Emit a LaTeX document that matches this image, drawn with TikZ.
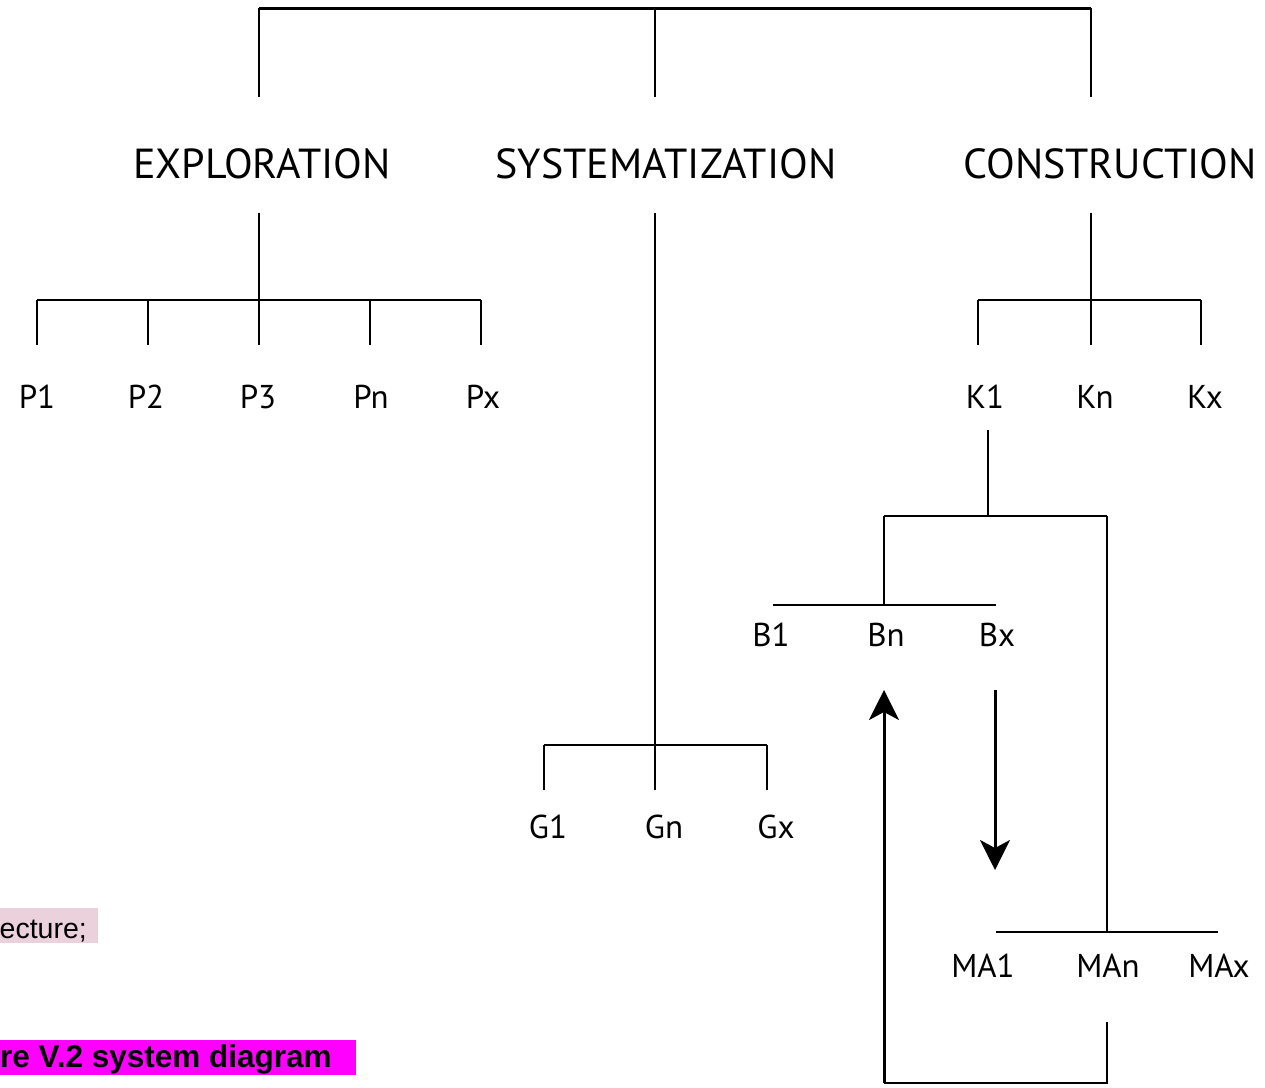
\documentclass[tikz,border=0pt]{standalone}
\usepackage{fontspec}
\setmainfont{PT Sans}
\newfontfamily\arialf{Liberation Sans}
\usetikzlibrary{arrows.meta}
\begin{document}
\begin{tikzpicture}[x=1pt,y=-1pt,
  lbl/.style={font=\fontsize{42}{44}\selectfont, inner sep=0pt, anchor=center},
  sm/.style={font=\fontsize{33}{36}\selectfont, inner sep=0pt, anchor=center},
  ln/.style={line width=2pt, black},
  arr/.style={line width=3pt, -{Stealth[length=30pt,width=30pt,inset=8pt]}}]
\useasboundingbox (0,0) rectangle (1265,1087);
% top level
\draw[line width=3pt] (259,8) -- (1091,8);
\coordinate (tl) at (259,8); \coordinate (tm) at (655,8); \coordinate (tr) at (1091,8);
\draw[ln] (tl) -- (259,97);
\draw[ln] (tm) -- (655,97);
\draw[ln] (tr) -- (1091,97);
\node[lbl] (expl) at (262,164) {EXPLORATION};
\node[lbl] (syst) at (666,164) {SYSTEMATIZATION};
\node[lbl] (cons) at (1110,164) {CONSTRUCTION};
% exploration
\coordinate (ej) at (259,300);
\draw[ln] (259,213) -- (ej);
\draw[ln] (37,300) -- (481,300);
\foreach \x in {37,148,259,370,481} \draw[ln] (\x,300) -- (\x,345);
\node[sm] (p1) at (37,397) {P1};
\node[sm] (p2) at (146,397) {P2};
\node[sm] (p3) at (258,397) {P3};
\node[sm] (pn) at (371,397) {Pn};
\node[sm] (px) at (483,397) {Px};
% systematization
\coordinate (sj) at (655,745);
\draw[ln] (655,213) -- (sj);
\draw[ln] (544,745) -- (767,745);
\foreach \x in {544,655,767} \draw[ln] (\x,745) -- (\x,790);
\node[sm] (g1) at (548,827) {G1};
\node[sm] (gn) at (664,827) {Gn};
\node[sm] (gx) at (776,827) {Gx};
% construction
\coordinate (cj) at (1091,300);
\draw[ln] (1091,213) -- (cj);
\draw[ln] (978,300) -- (1201,300);
\foreach \x in {978,1091,1201} \draw[ln] (\x,300) -- (\x,345);
\node[sm] (k1) at (985,397) {K1};
\node[sm] (kn) at (1095,397) {Kn};
\node[sm] (kx) at (1205,397) {Kx};
% K1 subtree
\coordinate (kj) at (988,516);
\draw[ln] (988,430) -- (kj);
\draw[ln] (884,516) -- (1107,516);
\draw[ln] (884,516) -- (884,605);
\draw[ln] (1107,516) -- (1107,932);
\draw[ln] (773,605) -- (996,605);
\node[sm] (b1) at (771,635) {B1};
\node[sm] (bn) at (886,635) {Bn};
\node[sm] (bx) at (997,635) {Bx};
\draw[ln] (996,932) -- (1218,932);
\node[sm] (ma1) at (983,966) {MA1};
\node[sm] (man) at (1108,966) {MAn};
\node[sm] (max) at (1219,966) {MAx};
\coordinate (bl) at (884,1083); \coordinate (br) at (1107,1083);
\draw[ln] (1107,1022) -- (br) -- (bl);
\draw[arr] (bl) -- (884,690);
\draw[arr] (995,690) -- (995,870);
% bottom-left text fragments
\fill[fill={rgb,255:red,234;green,209;blue,220}] (0,908) rectangle (98,943);
\node[anchor=base east, inner sep=0pt, font=\arialf\fontsize{28.5}{30}\selectfont] (t1) at (87,938) {ecture;};
\fill[fill={rgb,255:red,255;green,0;blue,255}] (0,1040) rectangle (356,1075);
\node[anchor=base west, inner sep=0pt, font=\arialf\bfseries\fontsize{31.5}{33}\selectfont] (t2) at (0,1067) {re V.2 system diagram};
\end{tikzpicture}
\end{document}
